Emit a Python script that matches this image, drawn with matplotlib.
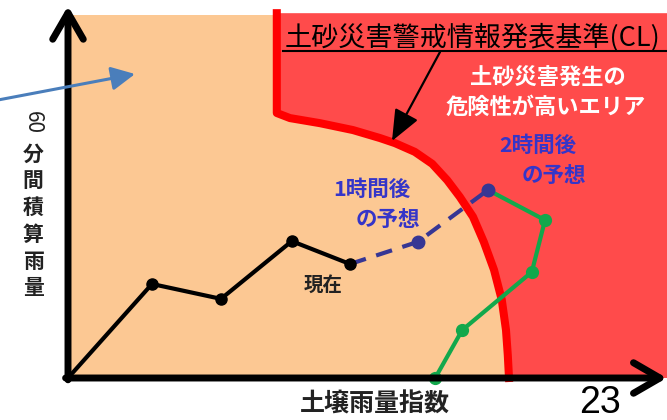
import matplotlib
matplotlib.use("Agg")
import matplotlib.pyplot as plt
from matplotlib.lines import Line2D

# ---- data (soil rainfall index vs 60-min rainfall, schematic units 0-100) ----
soil_now = [0, 14, 25.5, 37.3, 47]
rain_now = [0, 25.9, 21.8, 37.7, 31.4]
soil_1h = [47, 58.3, 70]
rain_1h = [31.4, 37.5, 51.8]
soil_2h = [70, 79.5, 77.3, 65.7, 61.2]
rain_2h = [51.8, 43.5, 29.2, 13.2, 0]
cl_soil = [34.8, 34.8, 37.0, 42.0, 47.5, 52.0, 54.5, 57.8, 60.7, 63.2, 65.3, 67.5,
           69.3, 71.0, 72.3, 73.0, 73.3, 73.5]
cl_rain = [100.5, 73.0, 71.6, 70.2, 68.3, 66.1, 64.7, 62.3, 59.0, 54.5, 49.9, 44.4,
           37.5, 29.8, 21.5, 13.2, 6.3, 0]

title_cl = "土砂災害警戒情報発表基準(CL)"
danger_lines = ["土砂災害発生の", "危険性が高いエリア"]
label_2h = ["2時間後", "の予想"]
label_1h = ["1時間後", "の予想"]
label_now = "現在"
ylabel_chars = ["分", "間", "積", "算", "雨", "量"]
xlabel = "土壌雨量指数"
page_no = "23"

PEACH = "#FCC893"
REDFILL = "#FF4B4B"
RED = "#FF0000"
GREEN = "#12A84C"
NAVY = "#363694"
BLUE_TXT = "#3535C8"
STEEL = "#4A7EBB"

plt.rcParams['font.family'] = ['Noto Sans CJK JP', 'DejaVu Sans']

W, H = 667, 420
fig = plt.figure(figsize=(W / 100, H / 100), dpi=100)
fig.patch.set_facecolor("white")


def fp(x, y):
    return x / W, 1 - y / H


ax = fig.add_axes([68 / W, 42 / H, 600 / W, 363 / H])
ax.set_xlim(0, 100)
ax.set_ylim(0, 100)
ax.axis("off")

# background regions
ax.fill([0, 100, 100, 0], [0, 0, 100, 100], color=PEACH, zorder=0, lw=0)
ax.fill(cl_soil + [100, 100], cl_rain + [0, 100.5], color=REDFILL, zorder=1, lw=0, clip_on=False)
ax.plot(cl_soil, cl_rain, color=RED, lw=5.8, solid_joinstyle="round", zorder=2, clip_on=False)

# series
ax.plot(soil_1h, rain_1h, color=NAVY, lw=3, dashes=(4, 2.6), zorder=3)
ax.plot(soil_1h[1:], rain_1h[1:], "o", color=NAVY, ms=9, zorder=5)
ax.plot(soil_2h, rain_2h, color=GREEN, lw=3, marker="o", ms=8.5, zorder=4, clip_on=False)
ax.plot(soil_now, rain_now, color="black", lw=3, marker="o", ms=8, zorder=5, markevery=[1, 2, 3, 4], clip_on=False)

# axes arrows
ax.annotate("", xy=(0, 102.5), xytext=(0, -0.5), xycoords="data",
            arrowprops=dict(arrowstyle="->,head_length=0.95,head_width=0.55", lw=5, color="black",
                            shrinkA=0, shrinkB=0, mutation_scale=20), annotation_clip=False, zorder=6)
ax.annotate("", xy=(99.8, 0), xytext=(-0.4, 0), xycoords="data",
            arrowprops=dict(arrowstyle="->,head_length=0.95,head_width=0.55", lw=5, color="black",
                            shrinkA=0, shrinkB=0, mutation_scale=20), annotation_clip=False, zorder=6)

# CL title, underline and pointer
fig.text(*fp(285, 38), title_cl, fontsize=19.5, color="black", ha="left", va="center")
fig.add_artist(Line2D([283 / W, 1.0], [1 - 51 / H, 1 - 51 / H], color="black", lw=1.5))
ax.annotate("", xy=fp(392, 141), xytext=fp(440, 52), xycoords="figure fraction",
            arrowprops=dict(arrowstyle="-|>,head_length=1.2,head_width=0.5", lw=1.6, color="black",
                            shrinkA=0, shrinkB=0, mutation_scale=16), annotation_clip=False, zorder=7)

# steel blue arrow from left
ax.annotate("", xy=fp(135, 74), xytext=fp(-2, 100), xycoords="figure fraction",
            arrowprops=dict(arrowstyle="-|>,head_length=0.9,head_width=0.45", lw=2.2, color=STEEL,
                            shrinkA=0, shrinkB=0, mutation_scale=16), annotation_clip=False, zorder=7)

# area label
fig.text(*fp(548, 78), danger_lines[0], fontsize=16, color="white", weight="bold", ha="center", va="center")
fig.text(*fp(546, 107), danger_lines[1], fontsize=16, color="white", weight="bold", ha="center", va="center")

# forecast labels
fig.text(*fp(538, 145), label_2h[0], fontsize=15.5, color=BLUE_TXT, weight="bold", ha="center", va="center")
fig.text(*fp(554, 175), label_2h[1], fontsize=15.5, color=BLUE_TXT, weight="bold", ha="center", va="center")
fig.text(*fp(372, 189), label_1h[0], fontsize=15.5, color=BLUE_TXT, weight="bold", ha="center", va="center")
fig.text(*fp(388, 220), label_1h[1], fontsize=15.5, color=BLUE_TXT, weight="bold", ha="center", va="center")
fig.text(*fp(323, 285), label_now, fontsize=14, color="#222222", weight="bold", ha="center", va="center")

# y label (vertical Japanese)
fig.text(*fp(33, 122), "60", fontsize=15, color="#222222", rotation=-90, ha="center", va="center")
for i, ch in enumerate(ylabel_chars):
    fig.text(*fp(33, 154 + i * 26.8), ch, fontsize=15, color="#222222", weight="bold", ha="center", va="center")

# x label and page number
fig.text(*fp(375, 404), xlabel, fontsize=18, color="#222222", weight="bold", ha="center", va="center")
fig.text(*fp(600, 403), page_no, fontsize=27, color="black", family=["Liberation Sans"], ha="center", va="center")

fig.savefig("out.png", dpi=100)
